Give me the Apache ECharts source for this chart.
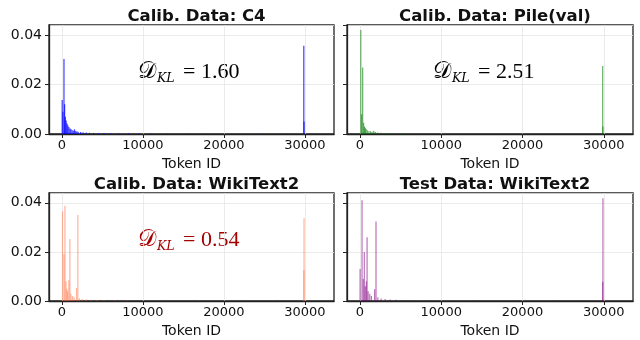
<!DOCTYPE html>
<html>
<head>
<meta charset="utf-8">
<script src="https://cdn.jsdelivr.net/npm/echarts@6/dist/echarts.min.js"></script>
<style>
html,body{margin:0;padding:0;background:#fff;}
#chart{width:640px;height:340px;}
</style>
</head>
<body>
<div id="chart"></div>
<script>
// ---- data: [token id, frequency] ----
var c4Bins = [[30,0.0137],[120,0.009],[250,0.0303],[330,0.012],[420,0.007],[520,0.0055],[620,0.0042],[720,0.0035],[850,0.0028],[980,0.0022],[1100,0.002],[1250,0.0016],[1400,0.0013],[1550,0.0019],[1700,0.0012],[1850,0.001],[2000,0.0009],[2300,0.0008],[2600,0.0007],[3000,0.0006],[3400,0.0005],[3900,0.0004],[4500,0.0004],[5200,0.0003],[6000,0.0003],[7000,0.0002],[8200,0.0003],[9500,0.0002],[11000,0.0002],[13000,0.0001],[15500,0.0001],[18000,0.0001],[21000,0.0001],[24000,0.0001],[27000,0.0001],[29870,0.0356],[29900,0.005],[31500,0.0001]];
var pileBins = [[100,0.042],[200,0.008],[330,0.0268],[450,0.0045],[550,0.003],[650,0.0025],[750,0.002],[900,0.0015],[1100,0.0012],[1300,0.0011],[1500,0.0009],[1700,0.0013],[1900,0.0008],[2200,0.0006],[2600,0.0005],[3000,0.0004],[3600,0.0003],[4300,0.0003],[5000,0.0004],[6000,0.0002],[7500,0.0002],[9000,0.0001],[12000,0.0001],[16000,0.0001],[20000,0.0001],[25000,0.0001],[29871,0.0275],[29900,0.003]];
var wikiCalibBins = [[70,0.0365],[250,0.019],[370,0.0388],[500,0.008],[600,0.005],[700,0.004],[850,0.0085],[980,0.0253],[1100,0.003],[1300,0.002],[1500,0.0015],[1800,0.0053],[1960,0.035],[2150,0.001],[2500,0.0008],[3000,0.0006],[3600,0.0005],[4300,0.0004],[5200,0.0003],[6500,0.0002],[8000,0.0002],[10000,0.0001],[13000,0.0001],[17000,0.0001],[22000,0.0001],[26000,0.0001],[29880,0.0125],[29900,0.0337]];
var wikiTestBins = [[10,0.013],[250,0.041],[400,0.009],[530,0.020],[650,0.006],[780,0.008],[870,0.026],[1000,0.004],[1200,0.003],[1400,0.002],[1800,0.0048],[1970,0.0324],[2200,0.0015],[2600,0.001],[3100,0.0008],[3700,0.0006],[4400,0.0005],[5300,0.0003],[6500,0.0002],[8000,0.0002],[10000,0.0001],[14000,0.0001],[19000,0.0002],[24000,0.0002],[27000,0.0001],[29880,0.0078],[29900,0.0419]];
var panelTitles = ['Calib. Data: C4','Calib. Data: Pile(val)','Calib. Data: WikiText2','Test Data: WikiText2'];
var klValues = ['1.60','2.51','0.54',null];
var xTicks = [0,10000,20000,30000];
var yTicks = [0,0.02,0.04];

// ---- styling / layout ----
var panelData = [c4Bins, pileBins, wikiCalibBins, wikiTestBins];
var colors = ['#0000ff','#007a00','#ff6a3a','#800080'];
var opac = [0.75,0.6,0.5,0.55];
var klColors = ['#000','#000','#a50000',null];
var klPos = [[138,72],[433,72],[138,240]];
var grids = [
  {left:49, top:25, width:285, height:109},
  {left:347, top:25, width:286, height:109},
  {left:49, top:193, width:285, height:108},
  {left:347, top:193, width:286, height:108}
];
var FONT = 'DejaVu Sans';
var option = {backgroundColor:'#fff', animation:false, grid:[], xAxis:[], yAxis:[], series:[], title:[], graphic:[]};
grids.forEach(function(g,i){
  option.grid.push({left:g.left, top:g.top, width:g.width, height:g.height, show:true, borderColor:'#222', borderWidth:1.3, backgroundColor:'transparent'});
  option.xAxis.push({type:'value', gridIndex:i, min:-1600, max:33600,
    name:'Token ID', nameLocation:'middle', nameGap:23, nameTextStyle:{fontFamily:FONT, fontSize:14, color:'#111'},
    axisLine:{show:true, onZero:false, lineStyle:{color:'#222', width:1.3}},
    axisTick:{show:true, customValues:xTicks, length:4, lineStyle:{color:'#222'}},
    axisLabel:{customValues:xTicks, fontFamily:FONT, fontSize:13, color:'#111', margin:5, formatter:function(v){return String(v);}},
    splitLine:{show:true, lineStyle:{color:'#e6e6e6', width:0.8}}});
  option.yAxis.push({type:'value', gridIndex:i, min:0, max:0.044, interval:0.02,
    axisLine:{show:true, onZero:false, lineStyle:{color:'#222', width:1.3}},
    axisTick:{show:true, length:4, lineStyle:{color:'#222'}},
    axisLabel:{show:(i%2===0), fontFamily:FONT, fontSize:14, color:'#111', margin:7, formatter:function(v){return v.toFixed(2);}},
    splitLine:{show:true, lineStyle:{color:'#e6e6e6', width:0.8}}});
  option.series.push({type:'bar', xAxisIndex:i, yAxisIndex:i, data:panelData[i], barWidth:1.2, barGap:'-100%',
    itemStyle:{color:colors[i], opacity:opac[i]}, z:3});
  option.title.push({text:panelTitles[i], left:g.left+g.width/2, top:g.top-22, textAlign:'center',
    textStyle:{fontFamily:FONT, fontWeight:'bold', fontSize:16.5, color:'#111'}});
  if (klValues[i]) {
    var c = klColors[i];
    option.graphic.push({type:'group', x:klPos[i][0], y:klPos[i][1], z:10, children:[
      {type:'text', x:0, y:0, style:{text:'𝒟', font:'23px "DejaVu Serif"', fill:c, textAlign:'left', textVerticalAlign:'middle'}},
      {type:'text', x:19, y:7, style:{text:'KL', font:'italic 12.5px "DejaVu Serif"', fill:c, textAlign:'left', textVerticalAlign:'middle'}},
      {type:'text', x:45, y:0, style:{text:'= '+klValues[i], font:'22px "Liberation Serif"', fill:c, textAlign:'left', textVerticalAlign:'middle'}}
    ]});
  }
});
var chart = echarts.init(document.getElementById('chart'), null, {renderer:'canvas'});
chart.setOption(option);
</script>
</body>
</html>
